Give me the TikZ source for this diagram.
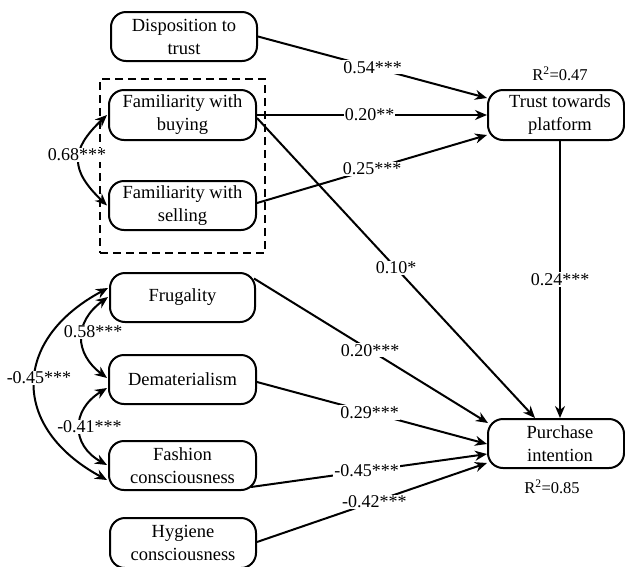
\documentclass[tikz,border=0pt]{standalone}
\usepackage{fontspec}
\setmainfont{Liberation Serif}
\usetikzlibrary{arrows.meta,calc,backgrounds}
\tikzset{
  box/.style={draw, line width=2pt, rounded corners=15pt, fill=white, align=center,
    font=\fontsize{18.5}{23}\selectfont, inner sep=0pt},
  conn/.style={line width=2pt, -{Stealth[length=12pt,width=10pt]}},
  corr/.style={line width=2pt, {Stealth[length=12pt,width=10pt]}-{Stealth[length=12pt,width=10pt]}},
  coef/.style={fill=white, inner sep=1pt, font=\fontsize{18}{20}\selectfont},
  rsq/.style={inner sep=0pt, font=\fontsize{16.5}{19}\selectfont},
  group/.style={draw, line width=1.5pt, dash pattern=on 8pt off 5pt, inner sep=0pt}
}
\begin{document}
\begin{tikzpicture}[x=1pt,y=-1pt]
\useasboundingbox (0,0) rectangle (625,566);
% group box
\node[group, minimum width=165pt, minimum height=174pt] (grp) at (182.5,166) {};
% left boxes
\node[box, minimum width=146pt, minimum height=49pt] (disp) at (184,36.5) {Disposition to\\trust};
\node[box, minimum width=147pt, minimum height=50pt] (fb) at (182.5,115) {Familiarity with\\buying};
\node[box, minimum width=147pt, minimum height=49pt] (fs) at (182.5,205.5) {Familiarity with\\selling};
\node[box, minimum width=145pt, minimum height=49pt] (frug) at (182.5,297.5) {Frugality};
\node[box, minimum width=147pt, minimum height=49pt] (demat) at (182.5,379.5) {Dematerialism};
\node[box, minimum width=147pt, minimum height=49pt] (fash) at (182.5,465.5) {Fashion\\consciousness};
\node[box, minimum width=146pt, minimum height=50pt] (hyg) at (183,543) {Hygiene\\consciousness};
% right boxes
\node[box, minimum width=136pt, minimum height=50pt] (trust) at (556,115) {\hspace*{8pt}Trust towards\\\hspace*{8pt}platform};
\node[box, minimum width=136pt, minimum height=49pt] (purch) at (556,443.5) {\hspace*{8pt}Purchase\\\hspace*{8pt}intention};
% R squared
\node[rsq] (r47) at (560,74) {R\textsuperscript{2}=0.47};
\node[rsq] (r85) at (552,487) {R\textsuperscript{2}=0.85};
% connectors
\begin{scope}[on background layer]
\draw[conn] (disp.east) -- node[coef,pos=0.5] (l54) {0.54***} ($(trust.west)+(0,-17)$);
\draw[conn] (fb.east) -- node[coef,pos=0.49] (l20) {0.20**} (trust.west);
\draw[conn] ($(fs.east)+(0,-2.5)$) -- node[coef,pos=0.5] (l25) {0.25***} ($(trust.west)+(0,20)$);
\draw[conn] ($(fb.east)+(0,3)$) -- node[coef,pos=0.5] (l10) {0.10*} ($(purch.north)+(-21,0)$);
\draw[conn] ($(trust.south)+(4,0)$) -- node[coef,pos=0.5] (l24) {0.24***} ($(purch.north)+(4,0)$);
\draw[conn] ($(frug.east)+(-2,-19)$) -- node[coef,pos=0.496] (l20b) {0.20***} ($(purch.west)+(1,-20.5)$);
\draw[conn] ($(demat.east)+(0,2.5)$) -- node[coef,pos=0.49] (l29) {0.29***} ($(purch.west)+(0,0.5)$);
\draw[conn] ($(fash.east)+(-6,21.5)$) -- node[coef,pos=0.49] (l45b) {-0.45***} ($(purch.west)+(0,10.5)$);
\draw[conn] ($(hyg.east)+(0,-1)$) -- node[coef,pos=0.51] (l42) {-0.42***} ($(purch.west)+(0,19.5)$);
\end{scope}
% correlations
\draw[corr] ($(fb.west)+(-1,0)$) .. controls (70,150) and (70,170) .. ($(fs.west)+(-1,0)$);
\node[coef] (l68) at (77,155) {0.68***};
\draw[corr] ($(frug.west)+(-1,-9.5)$) .. controls (11,340) and (11,428) .. ($(fash.west)+(-1,14.5)$);
\node[coef] (l45) at (39,378) {-0.45***};
\draw[corr] ($(frug.west)+(-1,-0.5)$) .. controls (74,322) and (74,353) .. ($(demat.west)+(-1,-1.5)$);
\node[coef] (l58) at (93,332) {0.58***};
\draw[corr] ($(demat.west)+(-1,8.5)$) .. controls (71,410) and (71,445) .. ($(fash.west)+(-1,-0.5)$);
\node[coef] (l41) at (89.5,427) {-0.41***};
\end{tikzpicture}
\end{document}
